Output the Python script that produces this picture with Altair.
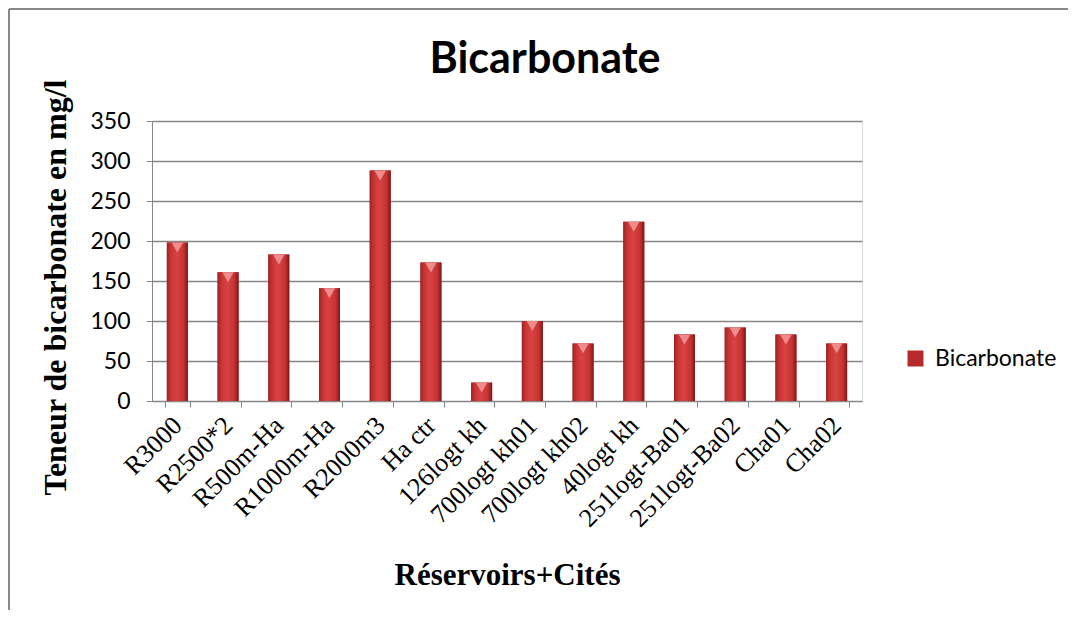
import altair as alt
import pandas as pd

categories = ["R3000", "R2500*2", "R500m-Ha", "R1000m-Ha", "R2000m3", "Ha ctr",
              "126logt kh", "700logt kh01", "700logt kh02", "40logt kh",
              "251logt-Ba01", "251logt-Ba02", "Cha01", "Cha02"]
values = [198, 161, 183, 141, 288, 173, 23, 100, 72, 224, 83, 92, 83, 72]
series = ["Bicarbonate"] * len(categories)
y_ticks = [0, 50, 100, 150, 200, 250, 300, 350]
chart_title = ["Bicarbonate"]

df = pd.DataFrame({"cat": categories, "val": values, "serie": series})
frame_df = pd.DataFrame({"k": [0]})
title_df = pd.DataFrame({"t": chart_title})

GRID = "#868686"
SERIF = "Liberation Serif"
SANS = "Lato"

x_enc = alt.X("cat:N", sort=categories, title="Réservoirs+Cités",
              axis=alt.Axis(labelAngle=-45, labelAlign="right", labelBaseline="middle",
                            labelFont=SERIF, labelFontSize=26, labelColor="black",
                            labelPadding=14, tickSize=6, tickBand="extent",
                            tickColor=GRID, domainColor=GRID, grid=False,
                            titleFont=SERIF, titleFontSize=31, titleFontWeight="bold",
                            titleColor="black", titleX=355, titleY=183,
                            titleBaseline="alphabetic", titleAlign="center"),
              scale=alt.Scale(paddingInner=0.5, paddingOuter=0.25))
y_enc = alt.Y("val:Q", title="Teneur de bicarbonate en mg/l",
              scale=alt.Scale(domain=[0, 350], nice=False),
              axis=alt.Axis(values=y_ticks, grid=True, gridColor=GRID, gridWidth=1.3,
                            tickSize=6, tickColor=GRID, domainColor=GRID,
                            labelFont=SANS, labelFontSize=23, labelColor="black",
                            labelPadding=16,
                            titleFont=SERIF, titleFontSize=32, titleFontWeight="bold",
                            titleColor="black", titleAngle=-90, titleX=-97, titleY=166,
                            titleBaseline="middle", titleAlign="center"))

base = alt.Chart(df)

legend_bars = base.mark_bar(size=21).encode(
    x=x_enc, y=y_enc,
    color=alt.Color("serie:N", title=None,
                    scale=alt.Scale(range=["#b52a2a"]),
                    legend=alt.Legend(orient="none", legendX=752, legendY=226,
                                      symbolType="square", symbolSize=256,
                                      symbolStrokeWidth=0, padding=0,
                                      labelFont=SANS, labelFontSize=23,
                                      labelColor="black", labelOffset=8)))

grad = alt.Gradient(
    gradient="linear", x1=0, x2=1, y1=0, y2=0,
    stops=[alt.GradientStop(color="#9a2222", offset=0),
           alt.GradientStop(color="#c83434", offset=0.18),
           alt.GradientStop(color="#d84242", offset=0.45),
           alt.GradientStop(color="#c63232", offset=0.8),
           alt.GradientStop(color="#7c1717", offset=1)])

grad_bars = base.mark_bar(size=21, color=grad).encode(x=x_enc, y=y_enc)

tops = base.mark_point(shape="triangle-down", filled=True, color="#f29a9a",
                       opacity=0.85, size=130, yOffset=5).encode(x=x_enc, y=y_enc)

frame_left = alt.Chart(frame_df).mark_rule(color="#888888", strokeWidth=2).encode(
    x=alt.value(-143), y=alt.value(-112), y2=alt.value(600))
frame_top = alt.Chart(frame_df).mark_rule(color="#888888", strokeWidth=2).encode(
    x=alt.value(-143), x2=alt.value(1000), y=alt.value(-112))

title_text = alt.Chart(title_df).mark_text(
    font=SANS, fontSize=43, fontWeight="bold", color="black",
    align="center", baseline="alphabetic").encode(
    text="t:N", x=alt.value(393), y=alt.value(-48))

chart = alt.layer(frame_left, frame_top, legend_bars, grad_bars, tops, title_text).properties(
    width=710, height=280,
    autosize=alt.AutoSizeParams(type="none"),
    padding={"left": 144, "top": 113, "right": 206, "bottom": 209},
).configure_view(stroke=None).configure(background="white")

chart.save("out.html", embed_options={"renderer": "svg", "actions": False})
